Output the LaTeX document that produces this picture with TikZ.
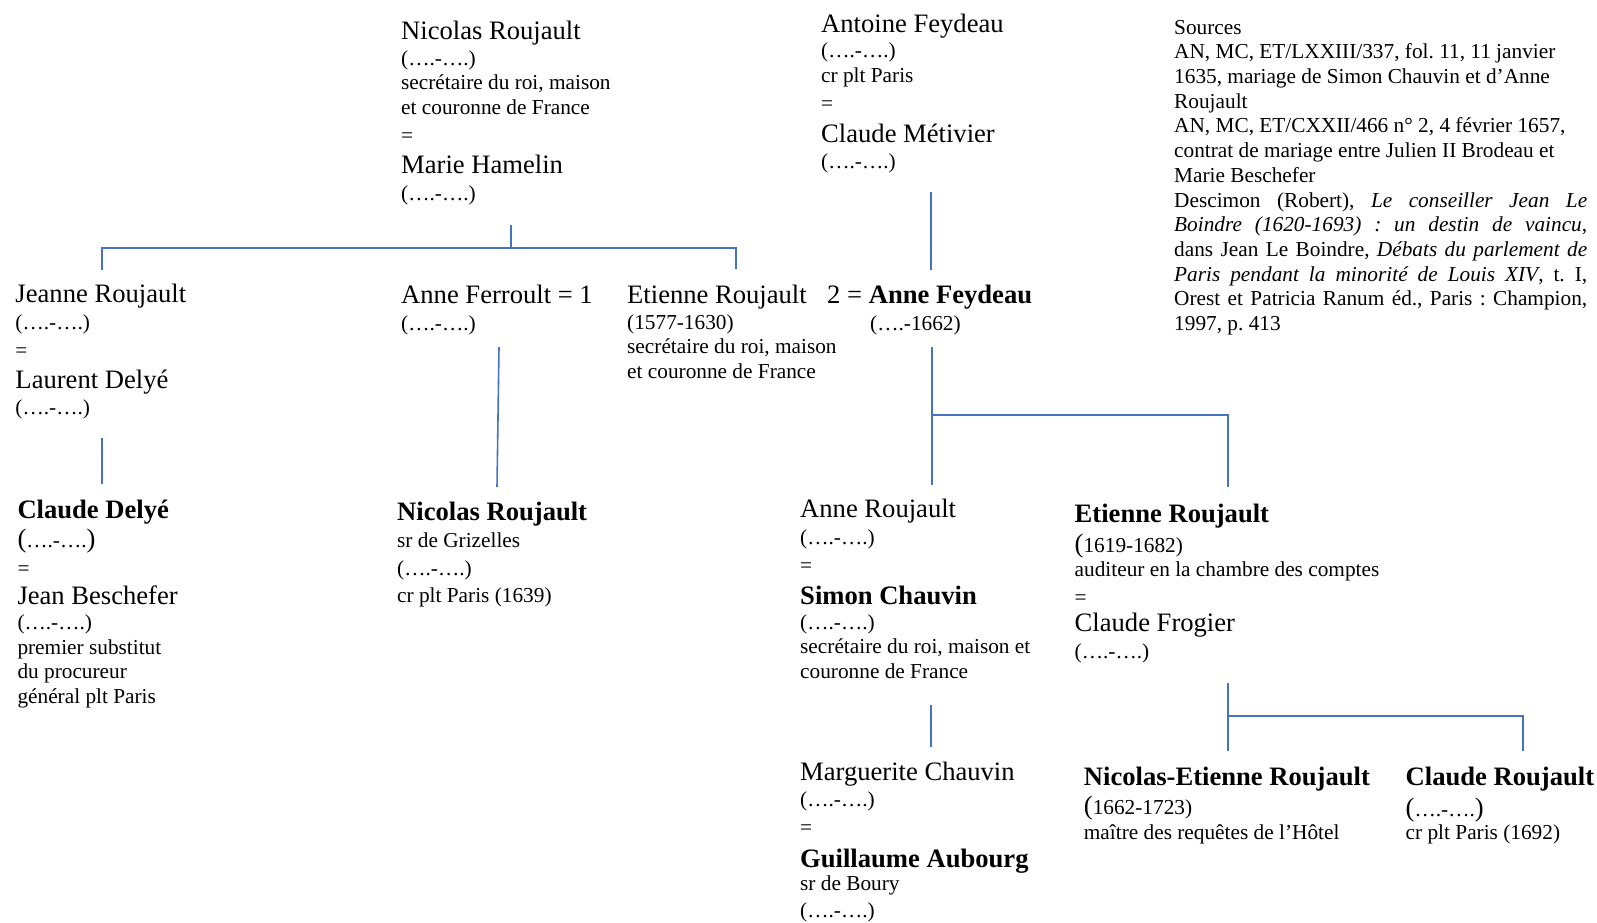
\documentclass[tikz,border=0pt]{standalone}
\usepackage{fontspec}
\setmainfont{Liberation Serif}
\definecolor{lienbleu}{HTML}{4472C4}
\newcommand{\grand}[1]{{\fontsize{26.6}{24.7}\selectfont #1}}
\newcommand{\grandb}[1]{{\fontsize{26.6}{24.7}\selectfont\bfseries #1}}
\newcommand{\egal}{\raisebox{-3pt}{=}}
\newcommand{\jline}[1]{\makebox[413pt][s]{#1}}
\lineskiplimit=-50pt
\frenchspacing
\tikzset{
  bloc/.style={anchor=base west, inner sep=0pt, align=left,
    font=\fontsize{21.3}{24.7}\selectfont},
  lien/.style={draw=lienbleu, line width=1.6pt}
}
\begin{document}
\begin{tikzpicture}[x=1pt, y=-1pt]
    \useasboundingbox (0,0) rectangle (1597,922);

    % 第一代 (base = dernière ligne)
    \node[bloc] (nicolas) at (401,200) {\grand{Nicolas Roujault}\\[1pt] (….-….)\\ secrétaire du roi, maison\\ et couronne de France\\ \egal\\[10pt] \grand{Marie Hamelin}\\[1.5pt] (….-….)};
    \node[bloc] (antoine) at (821,168.5) {\grand{Antoine Feydeau}\\[1pt] (….-….)\\ cr plt Paris\\ \egal\\[10.5pt] \grand{Claude Métivier}\\[1.5pt] (….-….)};

    % 来源
    \node[bloc] (sources) at (1174,330.5) {Sources\\ AN, MC, ET/LXXIII/337, fol. 11, 11 janvier\\ 1635, mariage de Simon Chauvin et d’Anne\\ Roujault\\ AN, MC, ET/CXXII/466 n° 2, 4 février 1657,\\ contrat de mariage entre Julien II Brodeau et\\ Marie Beschefer\\
      \jline{Descimon (Robert), \textit{Le conseiller Jean Le}}\\
      \jline{\textit{Boindre (1620-1693) : un destin de vaincu},}\\
      \jline{dans Jean Le Boindre, \textit{Débats du parlement de}}\\
      \jline{\textit{Paris pendant la minorité de Louis XIV}, t. I,}\\
      \jline{Orest et Patricia Ranum éd., Paris : Champion,}\\
      1997, p. 413};

    % 第二代
    \node[bloc] (jeanne) at (15.3,414.5) {\grand{Jeanne Roujault}\\[2pt] (….-….)\\ \egal\\[9.5pt] \grand{Laurent Delyé}\\[1.5pt] (….-….)};
    \node[bloc] (ferroult) at (401,330.5) {\grand{Anne Ferroult = 1}\\[2pt] (….-….)};
    \node[bloc] (etienne) at (627,378.5) {\grand{Etienne Roujault}\\[1pt] (1577-1630)\\ secrétaire du roi, maison\\ et couronne de France};
    \node[bloc] (annef) at (827,330.5) {\grand{2 = \textbf{Anne Feydeau}}\\[2pt] \hspace*{43pt}(….-1662)};

    % 第三代
    \node[bloc] (claude) at (17.3,703.5) {\grandb{Claude Delyé}\\[5pt] \grand{(}….-….\grand{)}\\ \egal\\[7.5pt] \grand{Jean Beschefer}\\ (….-….)\\ premier substitut\\ du procureur\\ général plt Paris};
    \node[bloc] (grizelles) at (397,602.5) {\grandb{Nicolas Roujault}\\[2.3pt] sr de Grizelles\\[3.3pt] (….-….)\\[2.3pt] cr plt Paris (1639)};
    \node[bloc] (anner) at (800,678.5) {\grand{Anne Roujault}\\[2.3pt] (….-….)\\ \egal\\[10.3pt] \grandb{Simon Chauvin}\\ (….-….)\\ secrétaire du roi, maison et\\ couronne de France};
    \node[bloc] (etienne2) at (1074.5,658.5) {\grandb{Etienne Roujault}\\[5.3pt] \grand{(}1619-1682)\\ auditeur en la chambre des comptes\\ \egal\\[5.3pt] \grand{Claude Frogier}\\[2.3pt] (….-….)};

    % 第四代
    \node[bloc] (marguerite) at (800,917) {\grand{Marguerite Chauvin}\\[0.8pt] (….-….)\\[0.6pt] \egal\\[11pt] \grandb{Guillaume Aubourg}\\[-1.2pt] sr de Boury\\[1.8pt] (….-….)};
    \node[bloc] (nicolase) at (1083.7,839.5) {\grandb{Nicolas-Etienne Roujault}\\[4.3pt] \grand{(}1662-1723)\\[0.3pt] maître des requêtes de l’Hôtel};
    \node[bloc] (clauder) at (1405.5,839.5) {\grandb{Claude Roujault}\\[6.3pt] \grand{(}….-….\grand{)}\\[-1.7pt] cr plt Paris (1692)};

    % 连线
    \coordinate (r0) at (511,225);
    \coordinate (r1) at (511,248);
    \coordinate (r2) at (102,270);
    \coordinate (r3) at (736,269);
    \draw[lien] (r0) -- (r1);
    \draw[lien] (r2) |- (r1) -| (r3);

    \coordinate (f0) at (931,192);
    \coordinate (f1) at (931,270);
    \draw[lien] (f0) -- (f1);

    \coordinate (d0) at (102,438);
    \coordinate (d1) at (102,484);
    \draw[lien] (d0) -- (d1);

    \coordinate (g0) at (499,347);
    \coordinate (g1) at (497,487);
    \draw[lien] (g0) -- (g1);

    \coordinate (e0) at (932,347);
    \coordinate (e1) at (932,485);
    \coordinate (ef) at (932,415);
    \coordinate (e2) at (1228,487);
    \draw[lien] (e0) -- (e1);
    \draw[lien] (ef) -| (e2);

    \coordinate (m0) at (931,705);
    \coordinate (m1) at (931,747);
    \draw[lien] (m0) -- (m1);

    \coordinate (k0) at (1228,683);
    \coordinate (k1) at (1228,751);
    \coordinate (kf) at (1228,716);
    \coordinate (k2) at (1523,751);
    \draw[lien] (k0) -- (k1);
    \draw[lien] (kf) -| (k2);

\end{tikzpicture}
\end{document}
